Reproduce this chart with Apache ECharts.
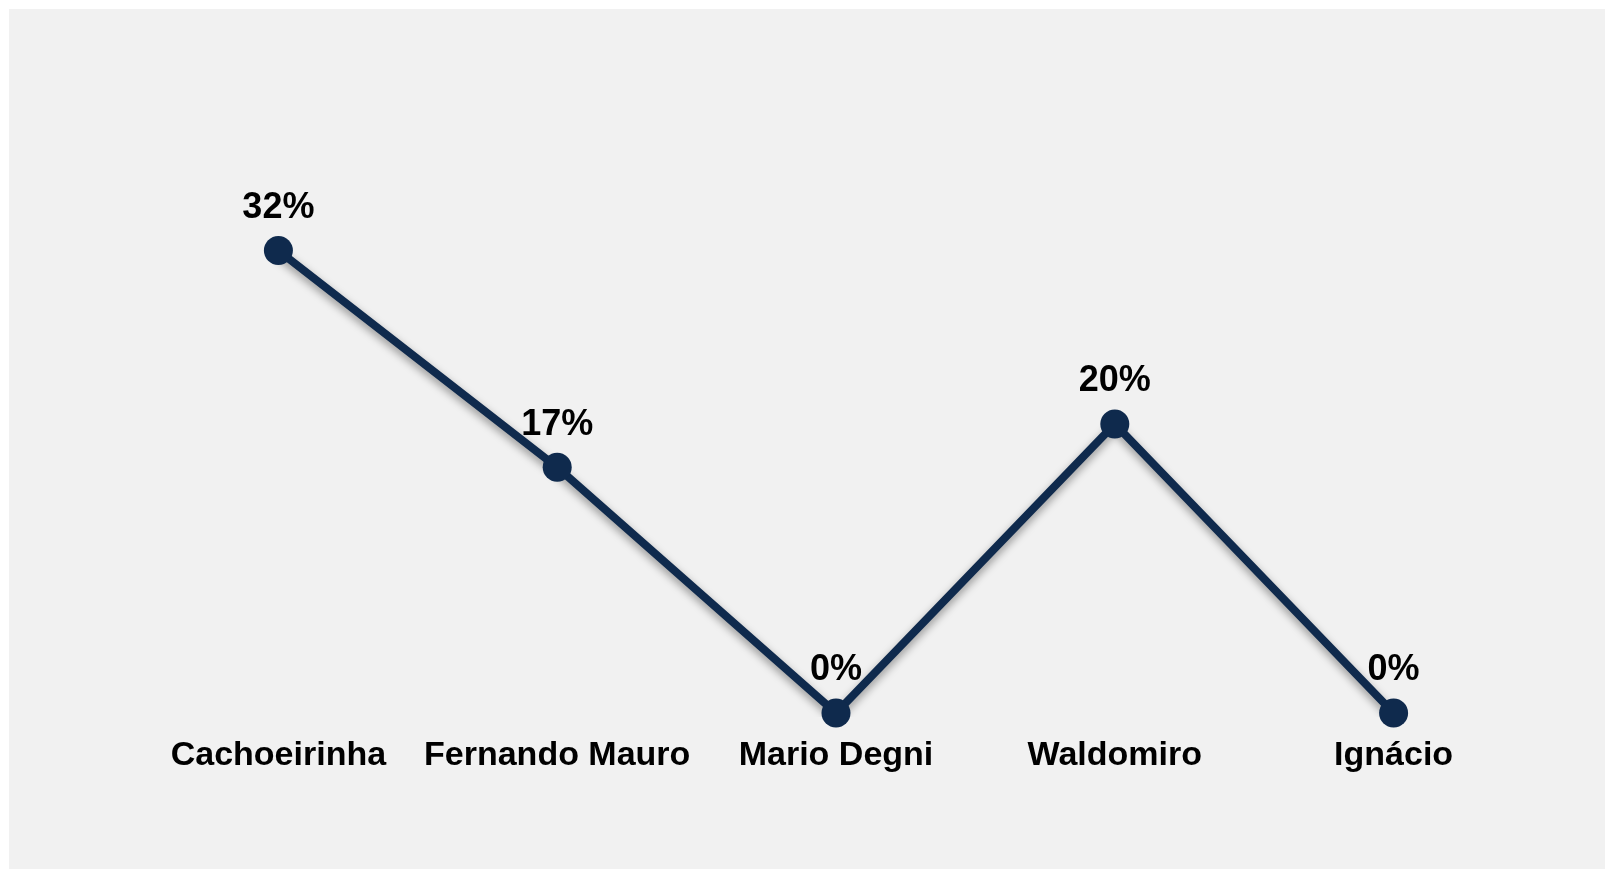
<!DOCTYPE html>
<html>
<head>
<meta charset="utf-8">
<script src="https://cdn.jsdelivr.net/npm/echarts@6/dist/echarts.min.js"></script>
<style>
  html, body { margin: 0; padding: 0; background: #ffffff; }
  #chart { width: 1605px; height: 869px; }
</style>
</head>
<body>
<div id="chart"></div>
<script>
// categorias e percentuais
var categorias = ['Cachoeirinha', 'Fernando Mauro', 'Mario Degni', 'Waldomiro', 'Ignácio']
var percentuais = [32, 17, 0, 20, 0]

var myChart = echarts.init(document.getElementById('chart'))

var option = {
  backgroundColor: '#ffffff',
  graphic: [
    {
      type: 'rect',
      z: -10,
      silent: true,
      shape: { x: 9, y: 9, width: 1596, height: 860 },
      style: { fill: '#f1f1f1' }
    }
  ],
  grid: {
    left: 139,
    right: 72,
    top: 135,
    bottom: 156
  },
  xAxis: {
    type: 'category',
    data: categorias,
    boundaryGap: true,
    axisLine: { show: false },
    axisTick: { show: false },
    axisLabel: {
      interval: 0,
      margin: 26,
      color: '#000000',
      fontSize: 34,
      fontWeight: 'bold',
      fontFamily: 'Liberation Sans, Arial, sans-serif'
    }
  },
  yAxis: {
    type: 'value',
    min: 0,
    max: 40,
    show: false,
    splitLine: { show: false }
  },
  series: [
    {
      type: 'line',
      data: percentuais,
      symbol: 'circle',
      symbolSize: 29,
      itemStyle: { color: '#0f2a4d' },
      lineStyle: {
        color: '#0f2a4d',
        width: 8,
        shadowColor: 'rgba(0,0,0,0.4)',
        shadowBlur: 8,
        shadowOffsetY: 4
      },
      label: {
        show: true,
        position: 'top',
        distance: 10,
        formatter: '{c}%',
        color: '#000000',
        fontSize: 36,
        fontWeight: 'bold',
        fontFamily: 'Liberation Sans, Arial, sans-serif'
      }
    }
  ]
}

option && myChart.setOption(option)
</script>
</body>
</html>
